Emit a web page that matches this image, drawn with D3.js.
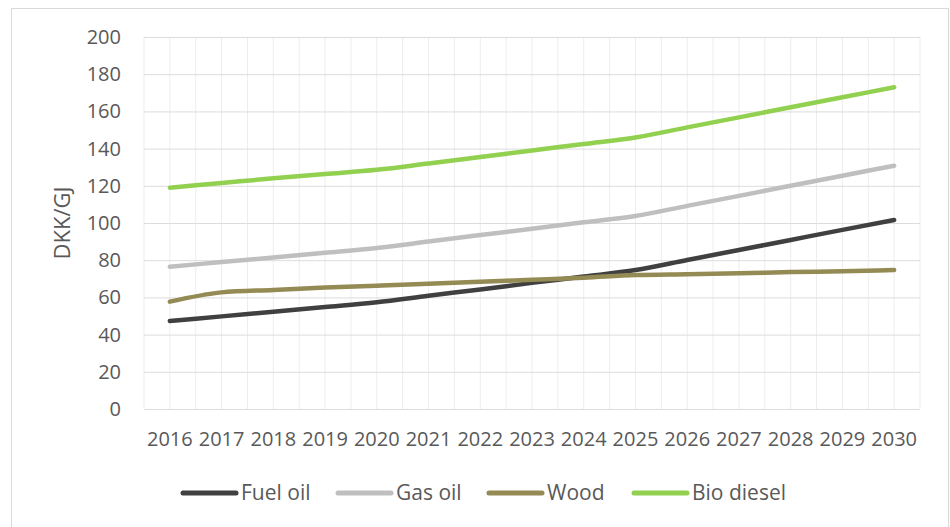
<!DOCTYPE html>
<html>
<head>
<meta charset="utf-8">
<script src="https://d3js.org/d3.v7.min.js"></script>
<style>
    body { margin: 0; background: #fff; }
    text { font-family: "Open Sans", sans-serif; fill: #595959; }
</style>
</head>
<body>
<div class="chart"></div>
<script>
// Data
const years = ["2016", "2017", "2018", "2019", "2020", "2021", "2022", "2023",
    "2024", "2025", "2026", "2027", "2028", "2029", "2030"];
const fuelOil = [47.3, 49.8, 52.3, 54.8, 57.4, 60.9, 64.3, 67.8, 71.2, 74.7, 80.1, 85.5, 90.9, 96.3, 101.6];
const gasOil = [76.5, 79, 81.5, 84, 86.6, 90, 93.5, 96.9, 100.4, 103.8, 109.2, 114.6, 120, 125.4, 130.8];
const wood = [57.7, 62.7, 64, 65.3, 66.3, 67.3, 68.4, 69.5, 70.6, 72, 72.5, 73, 73.6, 74.1, 74.7];
const bioDiesel = [119, 121.5, 124, 126.3, 128.6, 132, 135.5, 139, 142.5, 146, 151.4, 156.8, 162.2, 167.6, 173];
const yTicks = [0, 20, 40, 60, 80, 100, 120, 140, 160, 180, 200];

const series = [
    { name: "Fuel oil", values: fuelOil, color: "#404040" },
    { name: "Gas oil", values: gasOil, color: "#BFBFBF" },
    { name: "Wood", values: wood, color: "#948A54" },
    { name: "Bio diesel", values: bioDiesel, color: "#92D050" }
];

const width = 950, height = 527;
const plot = { left: 144, right: 920, top: 37, bottom: 409 };

const svg = d3.select(".chart")
    .append("svg")
    .attr("width", width)
    .attr("height", height);

// chart area border
svg.append("rect")
    .attr("x", 11.5).attr("y", 8.5)
    .attr("width", 937).attr("height", 530)
    .attr("fill", "#fff")
    .attr("stroke", "#D9D9D9");

const x = d3.scaleBand().domain(years).range([plot.left, plot.right]).padding(0);
const cx = d => x(d) + x.bandwidth() / 2;
const y = d3.scaleLinear().domain([0, 200]).range([plot.bottom, plot.top]);

// vertical gridlines: category boundaries and centres
const vLines = years.map(d => x(d)).concat([plot.right]).concat(years.map(cx));
svg.append("g")
    .selectAll("line")
    .data(vLines)
    .enter()
    .append("line")
    .attr("x1", d => d).attr("x2", d => d)
    .attr("y1", plot.top).attr("y2", plot.bottom)
    .attr("stroke", "#EDEDED")
    .attr("stroke-width", 1);

// horizontal gridlines
svg.append("g")
    .attr("transform", `translate(${plot.left},0)`)
    .call(d3.axisLeft(y).tickValues(yTicks).tickSize(-(plot.right - plot.left)).tickFormat(""))
    .call(g => g.select(".domain").remove())
    .call(g => g.selectAll("line").attr("stroke", "#DCDCDC"));

// y axis labels
svg.append("g")
    .attr("transform", `translate(${plot.left},0)`)
    .call(d3.axisLeft(y).tickValues(yTicks).tickSize(0).tickPadding(23))
    .call(g => g.select(".domain").remove())
    .call(g => g.selectAll("text")
        .style("font-size", "20px")
        .style("font-family", "'Open Sans', sans-serif")
        .attr("fill", "#595959"));

// x axis labels
svg.append("g")
    .attr("transform", `translate(0,${plot.bottom})`)
    .call(d3.axisBottom(x).tickSize(0).tickPadding(23))
    .call(g => g.select(".domain").remove())
    .call(g => g.selectAll("text")
        .style("font-size", "20px")
        .style("font-family", "'Open Sans', sans-serif")
        .attr("fill", "#595959"));

// y title
svg.append("text")
    .attr("transform", `translate(70, ${(plot.top + plot.bottom) / 2}) rotate(-90)`)
    .style("text-anchor", "middle")
    .style("font-size", "22px")
    .text("DKK/GJ");

// lines
const line = d3.line()
    .x((d, i) => cx(years[i]))
    .y(d => y(d))
    .curve(d3.curveMonotoneX);

svg.append("g")
    .selectAll("path")
    .data(series)
    .enter()
    .append("path")
    .attr("d", d => line(d.values))
    .attr("fill", "none")
    .attr("stroke", d => d.color)
    .attr("stroke-width", 4.5)
    .attr("stroke-linecap", "round")
    .attr("stroke-linejoin", "round");

// legend
const legendX = [183, 338, 489, 634];
const legend = svg.append("g")
    .selectAll("g")
    .data(series)
    .enter()
    .append("g")
    .attr("transform", (d, i) => `translate(${legendX[i]}, 493)`);

legend.append("line")
    .attr("x1", 0).attr("x2", 53)
    .attr("stroke", d => d.color)
    .attr("stroke-width", 5)
    .attr("stroke-linecap", "round");

legend.append("text")
    .attr("x", 58)
    .attr("dy", "0.35em")
    .style("font-size", "21px")
    .text(d => d.name);
</script>
</body>
</html>
